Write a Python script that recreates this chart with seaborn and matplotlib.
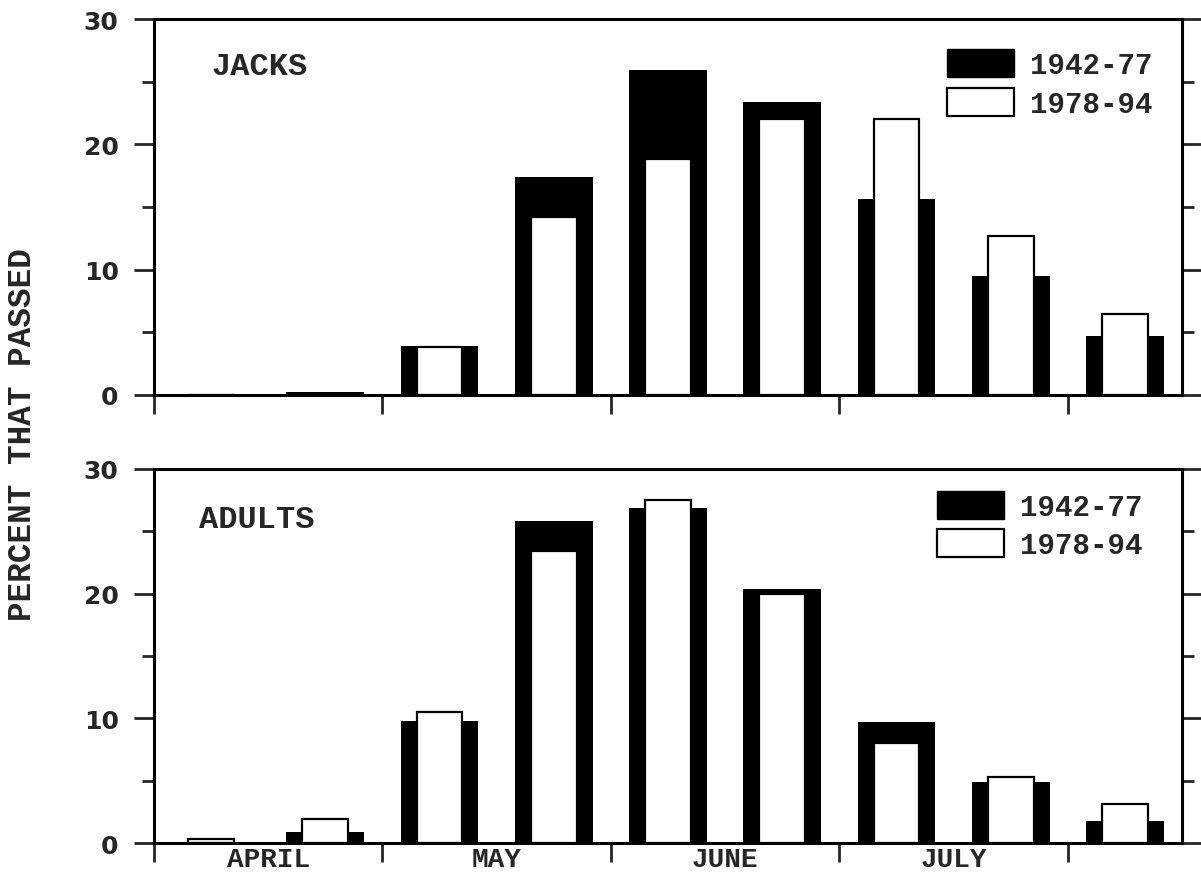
import seaborn as sns
import matplotlib.pyplot as plt
from matplotlib.patches import Patch
from matplotlib.ticker import MultipleLocator

# half-month periods, April through mid-August
periods = ['Apr 1-15', 'Apr 16-30', 'May 1-15', 'May 16-31', 'Jun 1-15',
           'Jun 16-30', 'Jul 1-15', 'Jul 16-31', 'Aug 1-15']
months = ['APRIL', 'MAY', 'JUNE', 'JULY']
series_names = ['1942-77', '1978-94']

jacks_old = [0.0, 0.2, 3.9, 17.4, 25.9, 23.4, 15.6, 9.5, 4.7]
jacks_new = [0.0, 0.1, 3.85, 14.2, 18.8, 22.0, 22.0, 12.7, 6.5]
adults_old = [0.0, 0.9, 9.8, 25.8, 26.9, 20.4, 9.7, 4.9, 1.8]
adults_new = [0.3, 1.9, 10.5, 23.4, 27.5, 20.0, 8.0, 5.3, 3.1]

sns.set_style('white')
mono = 'Liberation Mono'
plt.rcParams['axes.linewidth'] = 2.2

fig = plt.figure(figsize=(12.01, 8.78), dpi=100)
ax_top = fig.add_axes([0.1282, 0.5490, 0.856, 0.4282])
ax_bot = fig.add_axes([0.1282, 0.0387, 0.856, 0.4260])

panels = [
    (ax_top, jacks_old, jacks_new, 'JACKS', (0.056, 0.875), (0.771, 0.92)),
    (ax_bot, adults_old, adults_new, 'ADULTS', (0.044, 0.865), (0.762, 0.942)),
]

for ax, old, new, name, label_pos, leg_pos in panels:
    sns.barplot(x=periods, y=old, order=periods, color='black', saturation=1,
                width=0.68, linewidth=0, ax=ax)
    sns.barplot(x=periods, y=new, order=periods, color='white', saturation=1,
                width=0.40, edgecolor='black', linewidth=1.6, ax=ax)

    ax.set_xlim(-0.5, 8.5)
    ax.set_ylim(0, 30)
    ax.yaxis.set_major_locator(MultipleLocator(10))
    ax.yaxis.set_minor_locator(MultipleLocator(5))
    ax.tick_params(axis='y', which='major', direction='out', length=14.4, width=2,
                   left=True, right=True, labelsize=18, pad=11)
    ax.tick_params(axis='y', which='minor', direction='out', length=8.6, width=2,
                   left=True, right=True)
    for t in ax.get_yticklabels():
        t.set_fontweight('bold')
        t.set_family('DejaVu Sans')

    ax.set_xticks([-0.5, 1.5, 3.5, 5.5, 7.5])
    ax.set_xticklabels([])
    ax.set_xticks([0.5, 2.5, 4.5, 6.5], minor=True)
    ax.set_xticklabels(months if ax is ax_bot else [''] * 4, minor=True,
                       family=mono, fontweight='bold', fontsize=20)
    ax.tick_params(axis='x', which='major', direction='out', length=13.7, width=2,
                   bottom=True)
    ax.tick_params(axis='x', which='minor', length=0, pad=2.5)
    ax.set_xlabel('')
    ax.set_ylabel('')

    for s in ax.spines.values():
        s.set_visible(True)
        s.set_linewidth(2.2)
        s.set_color('black')

    ax.text(*label_pos, name, transform=ax.transAxes, family=mono,
            fontweight='bold', fontsize=23, va='center', ha='left')

    handles = [Patch(facecolor='black', edgecolor='black', label=series_names[0]),
               Patch(facecolor='white', edgecolor='black', linewidth=1.6,
                     label=series_names[1])]
    ax.legend(handles=handles, loc='upper left', bbox_to_anchor=leg_pos,
              frameon=False, borderpad=0, borderaxespad=0, handlelength=2.3,
              handleheight=1.1, handletextpad=0.55, labelspacing=0.3,
              prop={'family': mono, 'weight': 'bold', 'size': 21})

fig.text(0.019, 0.5046, 'PERCENT THAT PASSED', rotation=90, family=mono,
         fontweight='bold', fontsize=23.5, va='center', ha='center')

fig.savefig('out.png', dpi=100)
